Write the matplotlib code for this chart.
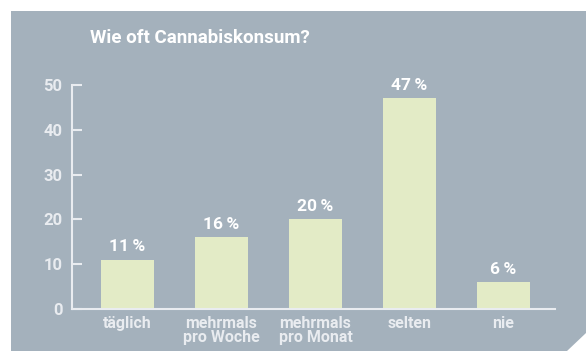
import matplotlib.pyplot as plt
from matplotlib.patches import Polygon

categories = ["täglich", "mehrmals\npro Woche", "mehrmals\npro Monat", "selten", "nie"]
values = [11, 16, 20, 47, 6]
yticks = [0, 10, 20, 30, 40, 50]

BG = "#a4b1bc"
BAR = "#e3ebc6"
TXT = "#e9ecf0"
FONT = ["Liberation Sans Narrow", "Roboto", "DejaVu Sans"]

W, H = 586, 351
fig = plt.figure(figsize=(W / 100, H / 100), dpi=100)
fig.patch.set_facecolor("white")

# background axes carrying the panel with the clipped bottom-right corner
bg = fig.add_axes([0, 0, 1, 1], zorder=-1)
bg.set_xlim(0, W)
bg.set_ylim(H, 0)
bg.axis("off")
bg.add_patch(Polygon([(11, H), (11, 11), (W, 11), (W, 333), (567, H)],
                     closed=True, facecolor=BG, edgecolor="none"))

ax = fig.add_axes([72 / W, 42 / H, 483 / W, 224 / H])
ax.set_facecolor("none")

x = list(range(len(categories)))
ax.bar(x, values, width=0.564, color=BAR, zorder=2)
for xi, v in zip(x, values):
    ax.annotate(f"{v}\u2009%", (xi, v), xytext=(0, 6), textcoords="offset points",
                ha="center", va="baseline", color="white", fontsize=12.5,
                fontweight="bold", family=FONT)

ax.set_xlim(-0.59, 4.548)
ax.set_ylim(0, 50)
ax.set_yticks(yticks)
ax.set_xticks(x)
ax.set_xticklabels(categories, family=FONT, fontweight="bold", fontsize=11.5,
                   color=TXT, linespacing=0.95)
ax.set_yticklabels([str(t) for t in yticks], family=FONT, fontweight="bold",
                   fontsize=12, color=TXT)
ax.tick_params(axis="y", direction="in", length=7, width=1.5, color=TXT, pad=7)
ax.tick_params(axis="x", length=0, pad=5)
for s in ("top", "right"):
    ax.spines[s].set_visible(False)
for s in ("left", "bottom"):
    ax.spines[s].set_color(TXT)
    ax.spines[s].set_linewidth(1.5)
    ax.spines[s].set_zorder(3)

fig.text(90 / W, 1 - 38 / H, "Wie oft Cannabiskonsum?", family=FONT,
         fontweight="bold", fontsize=13.5, color="white", va="center", ha="left")

fig.savefig("out.png", dpi=100)
